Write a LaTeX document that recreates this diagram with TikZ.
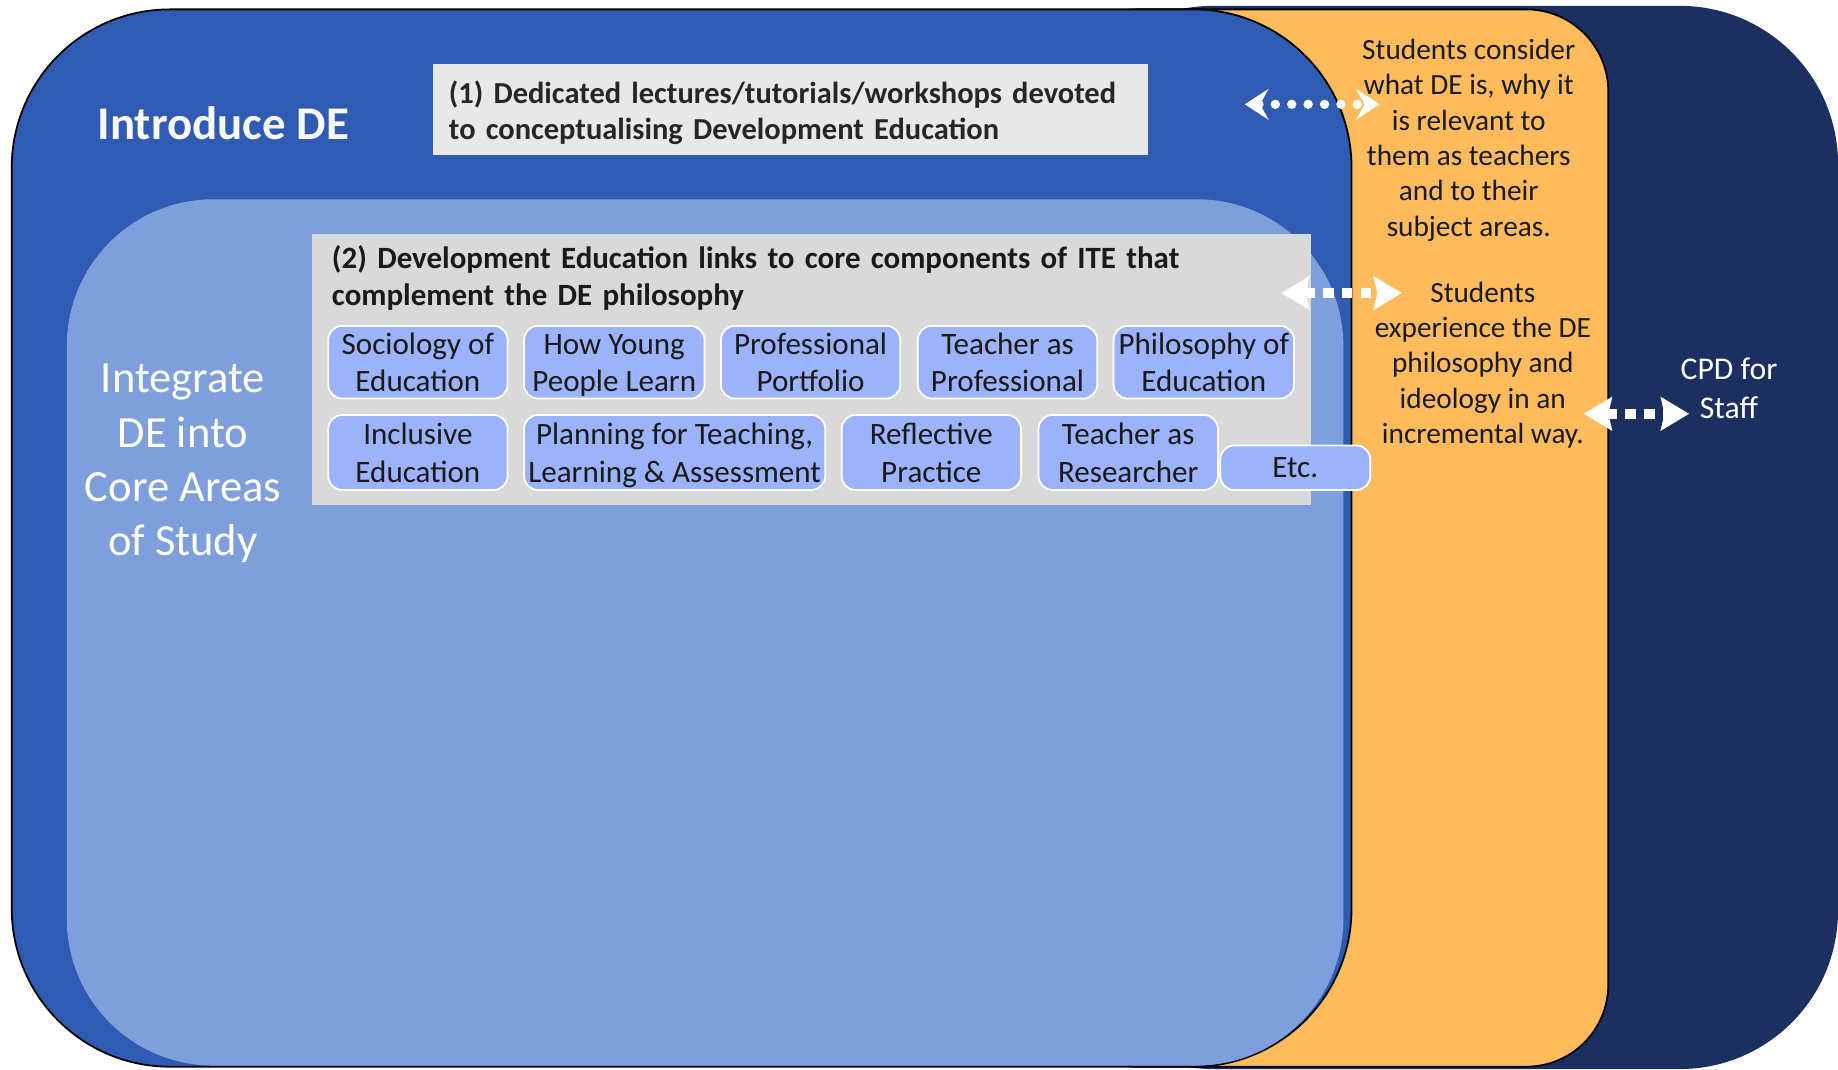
\documentclass[tikz,border=0pt]{standalone}
\usepackage{fontspec}
\setmainfont{Carlito}
\usetikzlibrary{arrows.meta}
\definecolor{navyc}{HTML}{1B2F60}
\definecolor{orangec}{HTML}{FDBB5C}
\definecolor{mainblue}{HTML}{2F5BB2}
\definecolor{lightblue}{HTML}{7F9FDC}
\definecolor{topicblue}{HTML}{9CB2FA}
\definecolor{grayone}{HTML}{E8E8E8}
\definecolor{graytwo}{HTML}{D9D9D9}
\definecolor{inkc}{HTML}{1A1A1A}
\newcommand{\tl}[2]{\rule{0pt}{24.4pt}#1\\#2\rule[-5.6pt]{0pt}{5.6pt}}
\tikzset{
  topic/.style={draw=white, line width=1.5pt, fill=topicblue, rounded corners=12pt,
    align=center, font=\fontsize{26.5}{32}\selectfont, text=inkc, inner sep=0pt,
    minimum height=62pt},
  sidetext/.style={align=center, text=inkc, inner sep=0pt, font=\fontsize{25}{30.2}\selectfont},
  dotarrow/.style={white, line width=8pt, line cap=round, dash pattern=on 0pt off 14pt,
    {Stealth[length=20pt,width=26pt,inset=7pt]}-{Stealth[length=20pt,width=26pt,inset=7pt]}},
  sqarrow/.style={white, line width=9pt, dash pattern=on 9pt off 7pt,
    {Stealth[length=24pt,width=28pt,inset=3pt]}-{Stealth[length=24pt,width=28pt,inset=3pt]}}
}
\begin{document}
\begin{tikzpicture}[x=1pt,y=-1pt]
\useasboundingbox (0,0) rectangle (1568,912);
% layered shapes
\fill[navyc, rounded corners=135pt] (900,5) rectangle (1568,912);
\filldraw[fill=orangec, draw=black, line width=1.5pt, rounded corners=70pt] (900,8) rectangle (1372,910);
\filldraw[fill=mainblue, draw=black, line width=1.5pt, rounded corners=135pt] (10,8) rectangle (1153,910);
\fill[lightblue, rounded corners=125pt] (57,170) rectangle (1146,909);
% titles
\node[anchor=west, text=white!95!gray, inner sep=0pt, font=\fontsize{40}{44}\selectfont\bfseries] (intro) at (83,105) {Introduce DE};
\node[text=white, align=center, inner sep=0pt, font=\fontsize{38}{46.3}\selectfont] (integ) at (156,395.5) {Integrate\\DE into\\Core Areas\\of Study};
% box 1
\node[fill=grayone, minimum width=610pt, minimum height=77pt, inner sep=0pt] (box1) at (674,93.5) {};
\node[text width=582pt, align=left, inner sep=0pt,
  text=black!85, font=\fontsize{26}{31}\selectfont\bfseries] (box1text) at (674,96)
  {(1) Dedicated lectures/tutorials/workshops devoted\\to conceptualising Development Education};
% box 2
\node[fill=graytwo, minimum width=852pt, minimum height=232pt, inner sep=0pt, anchor=north west] (box2) at (266,199) {};
\node[anchor=north west, text width=830pt, align=left, inner sep=0pt, text=inkc, font=\fontsize{26.4}{32}\selectfont\bfseries] (title2) at (283,209)
  {(2) Development Education links to core components of ITE that\\complement the DE philosophy};
% topic boxes
\node[topic, minimum width=153pt] (soc) at (356.5,309) {\tl{Sociology of}{Education}};
\node[topic, minimum width=154pt] (hyp) at (524,309) {\tl{How Young}{People Learn}};
\node[topic, minimum width=153pt] (pp) at (691.5,309) {\tl{Professional}{Portfolio}};
\node[topic, minimum width=153pt] (tap) at (859.5,309) {\tl{Teacher as}{Professional}};
\node[topic, minimum width=154pt] (phil) at (1027,309) {\tl{Philosophy of}{Education}};
\node[topic, minimum width=153pt, minimum height=64pt] (inc) at (356.5,386) {\tl{Inclusive}{Education}};
\node[topic, minimum width=257pt, minimum height=64pt] (plan) at (575.5,386) {\tl{Planning for Teaching,}{Learning \& Assessment}};
\node[topic, minimum width=153pt, minimum height=64pt] (refl) at (794.5,386) {\tl{Reflective}{Practice}};
\node[topic, minimum width=153pt, minimum height=64pt] (tar) at (962.5,386) {\tl{Teacher as}{Researcher}};
\node[topic, minimum width=128pt, minimum height=38pt] (etc) at (1105,399) {Etc.};
% side texts
\node[sidetext] (consider) at (1253,119.5) {Students consider\\what DE is, why it\\is relevant to\\them as teachers\\and to their\\subject areas.};
\node[sidetext] (experience) at (1265,311.5) {Students\\experience the DE\\philosophy and\\ideology in an\\incremental way.};
\node[sidetext, text=white, font=\fontsize{27}{33}\selectfont] (cpd) at (1475,331.5) {CPD for\\Staff};
% arrows
\coordinate (a1l) at (1062,89); \coordinate (a1r) at (1177,89);
\coordinate (a2l) at (1093,250); \coordinate (a2r) at (1196,250);
\coordinate (a3l) at (1351,353); \coordinate (a3r) at (1441,353);
\draw[dotarrow] (a1l) -- (a1r);
\draw[sqarrow] (a2l) -- (a2r);
\draw[sqarrow] (a3l) -- (a3r);
\end{tikzpicture}
\end{document}
